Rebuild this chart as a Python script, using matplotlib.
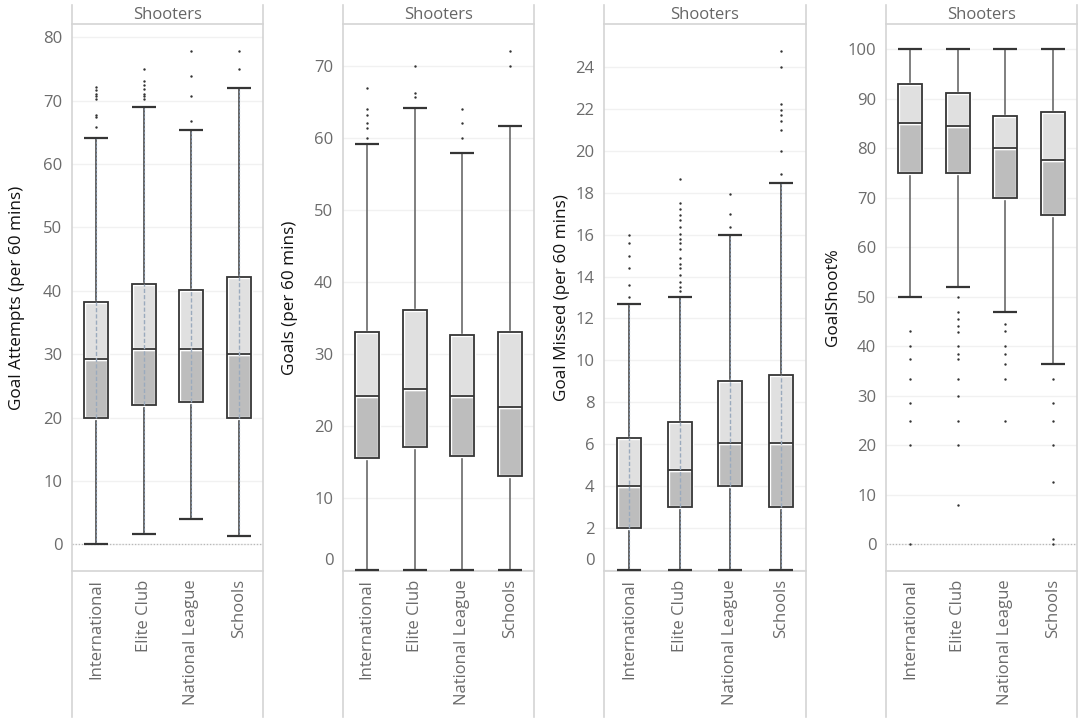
import matplotlib
matplotlib.use("Agg")
import matplotlib.pyplot as plt
from matplotlib.lines import Line2D
from matplotlib.transforms import ScaledTranslation

plt.rcParams['font.family'] = ['Open Sans', 'DejaVu Sans']

# ---------------- data ----------------
categories = ["International", "Elite Club", "National League", "Schools"]
header = "Shooters"

attempts_low = [0, 1.6, 4.0, 1.4]
attempts_q1 = [20, 22.0, 22.4, 20]
attempts_med = [29.3, 30.9, 30.9, 30.0]
attempts_q3 = [38.3, 41.1, 40.2, 42.2]
attempts_high = [64.1, 69.0, 65.3, 72.0]
attempts_out = [[65.9, 67.5, 67.8, 70.2, 70.7, 71.1, 71.7, 72.1],
                [70.2, 70.7, 71.1, 71.8, 72.5, 73.1, 75.0],
                [66.8, 70.7, 73.9, 77.9],
                [75.0, 77.9]]

goals_low = [0, 0, 0, 0]
goals_q1 = [15.5, 17.0, 15.8, 13.1]
goals_med = [24.1, 25.1, 24.2, 22.6]
goals_q3 = [33.0, 36.1, 32.6, 33.0]
goals_high = [59.1, 64.2, 57.9, 61.6]
goals_out = [[60.0, 61.4, 62.0, 63.2, 64.0, 66.9],
             [65.7, 66.2, 70.0],
             [60.0, 62.0, 64.0],
             [70.0, 72.1]]

missed_low = [0, 0, 0, 0]
missed_q1 = [2.0, 3.0, 4.0, 3.0]
missed_med = [4.0, 4.75, 6.05, 6.05]
missed_q3 = [6.3, 7.05, 9.0, 9.3]
missed_high = [12.7, 13.0, 16.0, 18.45]
missed_out = [[13.0, 13.6, 14.4, 15.0, 15.6, 16.0],
              [13.3, 13.5, 13.75, 14.05, 14.4, 14.6, 14.9, 15.3, 15.6, 15.8,
               16.05, 16.35, 16.7, 16.95, 17.2, 17.5, 18.65],
              [16.35, 17.0, 17.95],
              [18.9, 20.0, 21.0, 21.4, 21.7, 21.95, 22.25, 24.0, 24.75]]

pct_low = [50.0, 51.9, 47.0, 36.5]
pct_q1 = [75.0, 75.0, 70.0, 66.6]
pct_med = [85.2, 84.4, 80.0, 77.7]
pct_q3 = [93.0, 91.2, 86.6, 87.4]
pct_high = [100, 100, 100, 100]
pct_out = [[43.0, 40.0, 37.5, 33.3, 28.6, 25.0, 20.0, 0.0],
           [50.0, 47.0, 45.5, 44.0, 42.8, 40.0, 38.5, 37.5, 33.3, 30.0, 25.0, 20.0, 8.0],
           [44.5, 43.0, 40.0, 38.5, 36.4, 33.3, 25.0],
           [33.3, 28.6, 25.0, 20.0, 12.5, 1.0, 0.0]]

ylabels = ["Goal Attempts (per 60 mins)", "Goals (per 60 mins)",
           "Goal Missed (per 60 mins)", "GoalShoot%"]

# ---------------- layout ----------------
W, H = 1084, 725
fig = plt.figure(figsize=(W / 100, H / 100), dpi=100)

TOP, BOT = 24, 571          # plot area (px)
FRAME_TOP, FRAME_BOT = 5, 717
panels_px = [(72, 263), (343, 534), (604, 806), (886, 1077)]
ylabel_x = [17, 290, 562, 833]

specs = [
    dict(low=attempts_low, q1=attempts_q1, med=attempts_med, q3=attempts_q3,
         high=attempts_high, out=attempts_out, ylim=(-4.2, 82.1),
         ticks=list(range(0, 81, 10)), dense=True, zero=True, shift0=False),
    dict(low=goals_low, q1=goals_q1, med=goals_med, q3=goals_q3,
         high=goals_high, out=goals_out, ylim=(-0.15, 75.8),
         ticks=list(range(0, 71, 10)), dense=False, zero=False, shift0=True),
    dict(low=missed_low, q1=missed_q1, med=missed_med, q3=missed_q3,
         high=missed_high, out=missed_out, ylim=(-0.05, 26.05),
         ticks=list(range(0, 25, 2)), dense=True, zero=False, shift0=True),
    dict(low=pct_low, q1=pct_q1, med=pct_med, q3=pct_q3,
         high=pct_high, out=pct_out, ylim=(-5.4, 105.1),
         ticks=list(range(0, 101, 10)), dense=False, zero=True, shift0=False),
]

FRAME_C = '#d4d4d4'
TICK_C = '#6b6b6b'
EDGE_C = '#353535'
LIGHT = '#e0e0e0'
DARK = '#bdbdbd'
FS = 12

for k, ((x0, x1), sp) in enumerate(zip(panels_px, specs)):
    ax = fig.add_axes([x0 / W, 1 - BOT / H, (x1 - x0) / W, (BOT - TOP) / H])
    ax.set_xlim(-0.5, 3.5)
    ax.set_ylim(*sp['ylim'])
    band = (x1 - x0) / 4.0
    w = 24.0 / band
    n = len(categories)
    xs = list(range(n))

    wc = '#4a4a4a' if sp['dense'] else '#6a6a6a'
    for i in xs:
        ax.vlines(i, sp['low'][i], sp['q1'][i], color=wc, lw=1.2, zorder=2, clip_on=False)
        ax.vlines(i, sp['q3'][i], sp['high'][i], color=wc, lw=1.2, zorder=2, clip_on=False)
        if sp['dense']:
            ax.vlines(i, sp['low'][i], sp['high'][i], color='#7f8fa3', lw=0.8,
                      linestyles=(0, (2, 1.5)), zorder=2.5)
        ax.hlines([sp['low'][i], sp['high'][i]], i - w / 2, i + w / 2, color=EDGE_C,
                  lw=1.6, zorder=3, clip_on=False)
        ax.bar(i, sp['med'][i] - sp['q1'][i], bottom=sp['q1'][i], width=w, color=DARK,
               edgecolor='white', lw=2.4, zorder=3)
        ax.bar(i, sp['q3'][i] - sp['med'][i], bottom=sp['med'][i], width=w, color=LIGHT,
               edgecolor='white', lw=2.4, zorder=3)
        ax.bar(i, sp['q3'][i] - sp['q1'][i], bottom=sp['q1'][i], width=w, fill=False,
               edgecolor=EDGE_C, lw=1.3, zorder=4)
        ax.hlines(sp['med'][i], i - w / 2, i + w / 2, color=EDGE_C, lw=1.3, zorder=4)
        if sp['dense']:
            ax.vlines(i, sp['q1'][i], sp['q3'][i], color='#9aaabd', lw=1.0,
                      linestyles=(0, (3, 1.5)), zorder=4.5)
        ax.scatter([i] * len(sp['out'][i]), sp['out'][i], s=3, color='#333333',
                   linewidths=0, zorder=5, clip_on=False)

    if sp['zero']:
        ax.axhline(0, color='#b8b8b8', lw=0.9, ls=(0, (1, 1.5)), zorder=1)

    ax.set_yticks(sp['ticks'])
    ax.set_yticklabels([str(t) for t in sp['ticks']])
    ax.yaxis.grid(True, color='#f1f1f1', lw=1.0)
    ax.set_axisbelow(True)
    ax.tick_params(axis='y', length=0, pad=7, labelsize=FS, labelcolor=TICK_C)
    ax.set_xticks(xs)
    ax.set_xticklabels(categories, rotation=90)
    ax.tick_params(axis='x', length=0, pad=6, labelsize=FS, labelcolor=TICK_C)

    if sp['shift0']:
        lab = ax.get_yticklabels()[0]
        lab.set_transform(lab.get_transform() + ScaledTranslation(0, 8 / 72, fig.dpi_scale_trans))

    for s in ['left', 'right']:
        ax.spines[s].set_visible(False)
    ax.spines['top'].set_color(FRAME_C)
    ax.spines['bottom'].set_color(FRAME_C)
    ax.spines['top'].set_linewidth(1.2)
    ax.spines['bottom'].set_linewidth(1.2)

    # frame vertical lines through header and label area
    for xp in (x0, x1):
        fig.add_artist(Line2D([xp / W, xp / W], [1 - FRAME_BOT / H, 1 - FRAME_TOP / H],
                              color=FRAME_C, lw=1.2))

    fig.text((x0 + x1) / 2 / W, 1 - 15 / H, header, ha='center', va='center',
             fontsize=FS, color='#666666')
    fig.text(ylabel_x[k] / W, 1 - (TOP + BOT) / 2 / H, ylabels[k], rotation=90,
             ha='center', va='center', fontsize=12.3, color='#111111')

fig.savefig('out.png', dpi=100)
